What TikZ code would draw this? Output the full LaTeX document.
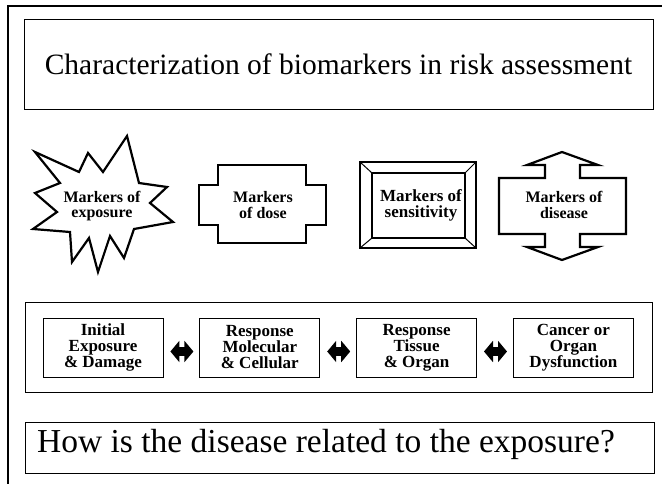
\documentclass[tikz,border=0pt]{standalone}
\usepackage{fontspec}
\setmainfont{Liberation Serif}
\usetikzlibrary{arrows.meta,positioning,calc}

\begin{document}
\begin{tikzpicture}[x=1pt,y=-1pt,
  shapeline/.style={line width=2.2pt,line join=miter},
  thinbox/.style={draw,line width=0.8pt},
  stagebox/.style={thinbox,minimum width=120pt,minimum height=59pt,align=center,inner sep=0pt,
    font=\fontsize{17}{16}\selectfont\bfseries},
  markertext/.style={align=center,inner sep=0pt,font=\fontsize{16}{15.5}\selectfont\bfseries},
  dblarrow/.style={line width=9pt,shorten <=7pt,shorten >=6pt,
    {Triangle[width=21pt,length=9pt]}-{Triangle[width=21pt,length=9pt]}}]
  \useasboundingbox (0,0) rectangle (662,484);

  % Frame
  \draw[line width=2pt] (8,484) -- (8,6) -- (662,6);

  % Title
  \node[thinbox,minimum width=629pt,minimum height=90pt,font=\fontsize{29.5}{32}\selectfont] (title)
    at (338.5,64) {Characterization of biomarkers in risk assessment};

  % Markers of exposure
  \draw[shapeline] (127,136) -- (139,183) -- (167,187) -- (150,203) -- (173,222) -- (134,229)
    -- (124,258) -- (110,236) -- (98,272) -- (89,238) -- (72,262) -- (70,232) -- (33,229)
    -- (57,212) -- (35,193) -- (60,183) -- (35,152) -- (79,172) -- (88,153) -- (103,172) -- cycle;
  \node[markertext] (expo) at (102,206) {Markers of\\exposure};

  % Markers of dose
  \draw[shapeline] (218,165) -- (306,165) -- (306,185) -- (326,185) -- (326,225) -- (306,225)
    -- (306,243) -- (218,243) -- (218,225) -- (199,225) -- (199,185) -- (218,185) -- cycle;
  \node[markertext] (dose) at (263,205) {Markers\\of dose};

  % Markers of sensitivity
  \draw[shapeline] (360,162) rectangle (476,248);
  \draw[line width=1.4pt] (372,173) rectangle (465,238);
  \draw[line width=1pt] (360,162) -- (372,173) (476,162) -- (465,173)
    (360,248) -- (372,238) (476,248) -- (465,238);
  \node[markertext,font=\fontsize{17}{16}\selectfont\bfseries] (sens) at (421,205) {Markers of\\sensitivity};

  % Markers of disease
  \draw[shapeline] (562,152) -- (598,165) -- (580,165) -- (580,178) -- (626,178) -- (626,234)
    -- (580,234) -- (580,247) -- (598,247) -- (562,260) -- (527,247) -- (545,247) -- (545,234)
    -- (499,234) -- (499,178) -- (545,178) -- (545,165) -- (527,165) -- cycle;
  \node[markertext] (dis) at (564,205) {Markers of\\disease};

  % Stages
  \draw[thinbox] (25,302) rectangle (652,392);
  \node[stagebox] (initial) at (103,347.5) {Initial\\Exposure\\\& Damage};
  \node[stagebox,right=36pt of initial] (molec) {Response\\Molecular\\\& Cellular};
  \node[stagebox,right=36pt of molec] (tissue) {Response\\Tissue\\\& Organ};
  \node[stagebox,right=36pt of tissue] (cancer) {Cancer or\\Organ\\Dysfunction};
  \draw[dblarrow] ([yshift=-4pt]initial.east) -- ([yshift=-4pt]molec.west);
  \draw[dblarrow] ([yshift=-4pt]molec.east) -- ([yshift=-4pt]tissue.west);
  \draw[dblarrow] ([yshift=-4pt]tissue.east) -- ([yshift=-4pt]cancer.west);

  % Question
  \draw[thinbox] (25,422) rectangle (654,473);
  \node[anchor=base,font=\fontsize{33.5}{36}\selectfont] (question) at (326,452)
    {How is the disease related to the exposure?};
\end{tikzpicture}
\end{document}
